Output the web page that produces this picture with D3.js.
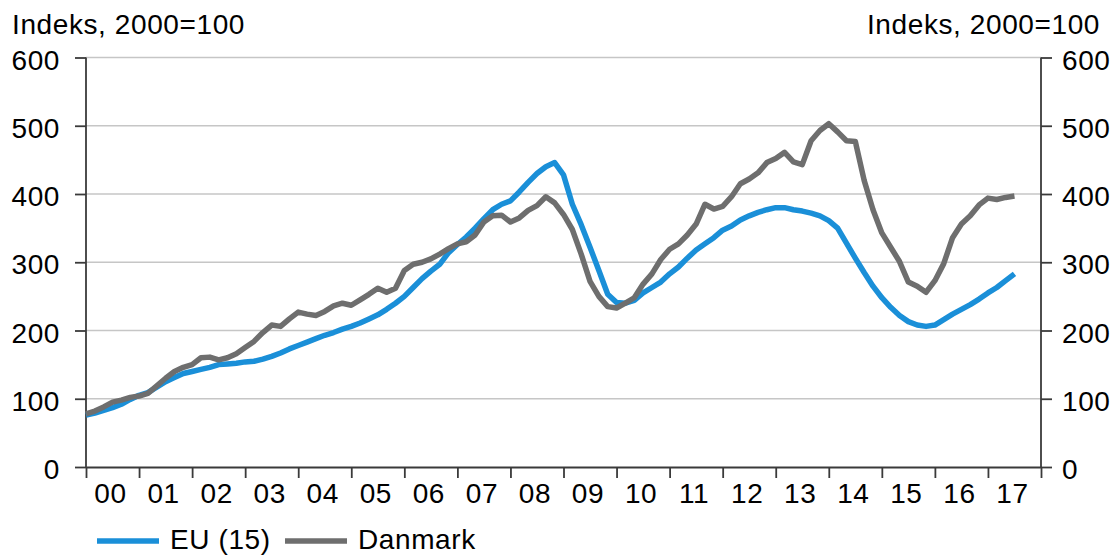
<!DOCTYPE html>
<html>
<head>
<meta charset="utf-8">
<script src="https://cdn.jsdelivr.net/npm/d3@7"></script>
<style>
  html, body { margin: 0; padding: 0; background: #ffffff; }
  svg { display: block; }
  text { font-family: "Liberation Sans", Arial, sans-serif; fill: #000; letter-spacing: 0.6px; }
</style>
</head>
<body>
<svg id="chart" width="1115" height="555"></svg>
<script>
// House price index, 2000=100 — observations every second month from Jan 2000
const startYear = 2000;
const monthsPerStep = 2;

const yearLabels = ["00","01","02","03","04","05","06","07","08","09","10","11","12","13","14","15","16","17"];
const yTicks = [0, 100, 200, 300, 400, 500, 600];

const seriesNames = ["EU (15)", "Danmark"];
const seriesColors = ["#1a8fd8", "#6e6e6e"];

const euValues = [
  76, 79, 83, 87, 92, 99,
  105, 109, 117, 125, 131, 137,
  140, 143, 146, 150, 151, 152,
  154, 155, 158, 162, 167, 173,
  178, 183, 188, 193, 197, 202,
  206, 211, 217, 223, 231, 240,
  250, 263, 276, 287, 297, 314,
  326, 337, 350, 364, 377, 385,
  390, 403, 417, 430, 440, 446,
  428, 385, 355, 322, 288, 253,
  241, 240, 244, 255, 263, 271,
  283, 293, 306, 318, 327, 336,
  347, 353, 362, 368, 373, 377,
  380, 380, 377, 375, 372, 368,
  361, 350, 328, 306, 285, 265,
  248, 234, 222, 213, 208, 206,
  208, 216, 224, 231, 238, 246,
  255, 263, 273, 283
];

const dkValues = [
  78, 82, 88, 95, 98, 102,
  104, 108, 119, 130, 140, 146,
  150, 160, 161, 157, 160, 166,
  175, 184, 197, 208, 206, 217,
  227, 224, 222, 228, 236, 240,
  237, 245, 253, 262, 256, 262,
  288, 297, 300, 305, 312, 320,
  327, 330, 340, 359, 368, 369,
  359, 365, 376, 383, 396, 387,
  370, 348, 312, 272, 250, 235,
  233, 240, 248, 268, 283, 304,
  319, 327, 340, 356, 385, 378,
  382, 396, 415, 422, 431, 446,
  452, 461, 447, 443, 478, 493,
  503, 491, 478, 477, 420, 377,
  343, 322, 301, 271, 265, 256,
  273, 298, 336, 356, 368, 384,
  394, 392, 395, 397
];

const svg = d3.select("#chart");
const plot = { left: 86, right: 1041, top: 57.5, bottom: 467 };
const fontSize = 28;

// time measured in years since January 2000
const x = d3.scaleLinear().domain([0, yearLabels.length]).range([plot.left, plot.right]);
const y = d3.scaleLinear().domain([0, 600]).range([plot.bottom, plot.top]);

const toPoints = vals => vals.map((v, i) => ({ t: i * monthsPerStep / 12, v }));

// horizontal gridlines
svg.append("g")
  .selectAll("line")
  .data(yTicks.filter(d => d > 0))
  .join("line")
  .attr("x1", plot.left).attr("x2", plot.right)
  .attr("y1", d => y(d)).attr("y2", d => y(d))
  .attr("stroke", "#c6c6c6").attr("stroke-width", 1.6);

// left axis
const leftAxis = svg.append("g")
  .attr("transform", `translate(${plot.left},0)`)
  .call(d3.axisLeft(y).tickValues(yTicks).tickSize(11).tickFormat(""));
// right axis
const rightAxis = svg.append("g")
  .attr("transform", `translate(${plot.right},0)`)
  .call(d3.axisRight(y).tickValues(yTicks).tickSize(11).tickFormat(""));
// bottom axis: tick marks at year boundaries
const bottomAxis = svg.append("g")
  .attr("transform", `translate(0,${plot.bottom})`)
  .call(d3.axisBottom(x).tickValues(d3.range(yearLabels.length + 1)).tickSize(11).tickSizeOuter(0).tickFormat(""));

[leftAxis, rightAxis, bottomAxis].forEach(g => {
  g.selectAll("path").attr("stroke", "#3a3a3a").attr("stroke-width", 1.8);
  g.selectAll("line").attr("stroke", "#3a3a3a").attr("stroke-width", 1.8);
});
leftAxis.select(".domain").attr("d", `M0,${y(600)}V${y(0)}`);
rightAxis.select(".domain").attr("d", `M0,${y(600)}V${y(0)}`);

// y tick labels on both sides
svg.append("g").selectAll("text")
  .data(yTicks).join("text")
  .attr("x", 60).attr("y", d => y(d) + 12)
  .attr("text-anchor", "end").attr("font-size", fontSize)
  .text(d => d);
svg.append("g").selectAll("text")
  .data(yTicks).join("text")
  .attr("x", 1062).attr("y", d => y(d) + 12)
  .attr("text-anchor", "start").attr("font-size", fontSize)
  .text(d => d);

// year labels centred between boundaries
svg.append("g").selectAll("text")
  .data(yearLabels).join("text")
  .attr("x", (d, i) => x(i + 0.5) - 2).attr("y", 503)
  .attr("text-anchor", "middle").attr("font-size", fontSize)
  .text(d => d);

// unit titles
svg.append("text").attr("x", 12).attr("y", 34).attr("font-size", fontSize).text("Indeks, 2000=100");
svg.append("text").attr("x", 1100).attr("y", 34).attr("text-anchor", "end").attr("font-size", fontSize).text("Indeks, 2000=100");

// series lines
const line = d3.line().x(d => x(d.t)).y(d => y(d.v));
[euValues, dkValues].forEach((vals, i) => {
  svg.append("path")
    .datum(toPoints(vals))
    .attr("d", line)
    .attr("fill", "none")
    .attr("stroke", seriesColors[i])
    .attr("stroke-width", 5.5)
    .attr("stroke-linejoin", "round")
    .attr("stroke-linecap", "butt");
});

// legend
const legendItems = [
  { name: seriesNames[0], color: seriesColors[0], x0: 97 },
  { name: seriesNames[1], color: seriesColors[1], x0: 285 }
];
const legend = svg.append("g");
legendItems.forEach(item => {
  legend.append("line")
    .attr("x1", item.x0).attr("x2", item.x0 + 62)
    .attr("y1", 541).attr("y2", 541)
    .attr("stroke", item.color).attr("stroke-width", 5.5);
  legend.append("text")
    .attr("x", item.x0 + 73).attr("y", 549)
    .attr("font-size", fontSize)
    .text(item.name);
});
</script>
</body>
</html>
